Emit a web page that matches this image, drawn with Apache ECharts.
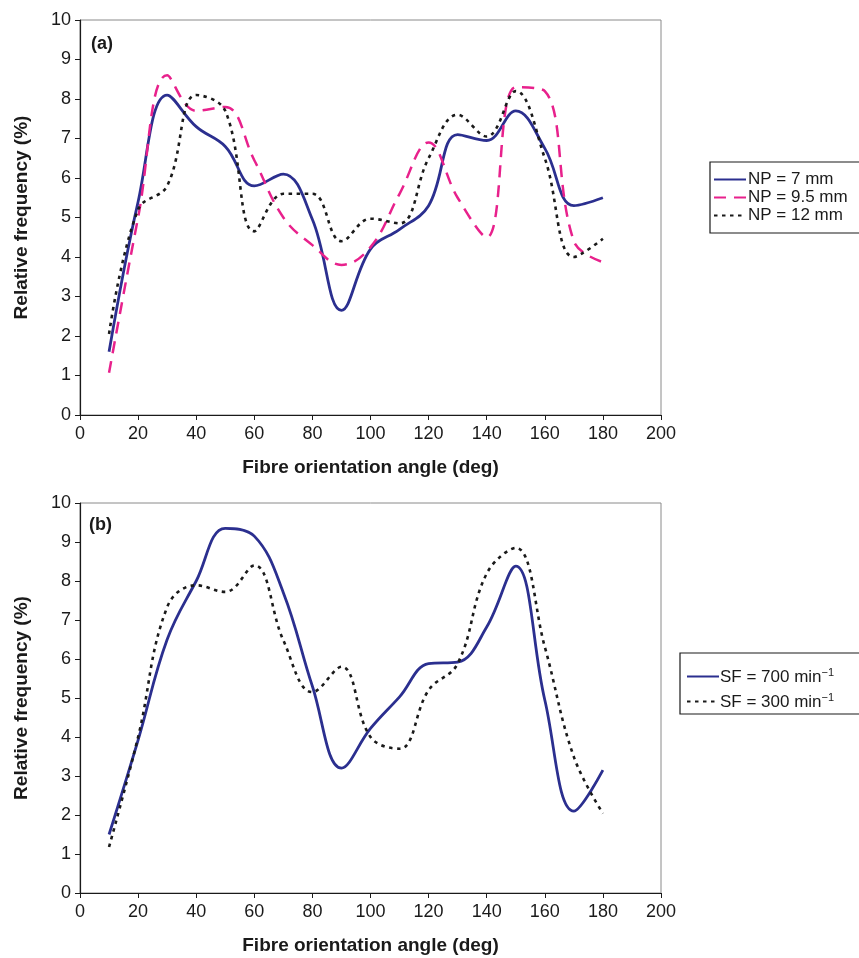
<!DOCTYPE html>
<html><head><meta charset="utf-8">
<script src="https://cdn.jsdelivr.net/npm/echarts@6/dist/echarts.min.js"></script>
<style>html,body{margin:0;padding:0;background:#fff}#c{width:859px;height:958px}</style>
</head><body><div id="c"></div>
<script>
// ---- data ----
const angles = [10,20,30,40,50,60,70,80,90,100,110,120,130,140,150,160,170,180];
const np7   = [1.6, 5.4, 8.1, 7.3, 6.8, 5.8, 6.1, 4.95, 2.65, 4.2, 4.7, 5.3, 7.1, 6.95, 7.7, 6.75, 5.3, 5.5];
const np95  = [1.07, 5.0, 8.6, 7.7, 7.8, 6.45, 5.0, 4.3, 3.8, 4.25, 5.6, 6.9, 5.5, 4.5, 8.3, 8.2, 4.4, 3.87];
const np12  = [2.05, 5.2, 5.8, 8.1, 7.7, 4.65, 5.6, 5.6, 4.4, 4.97, 4.85, 6.5, 7.6, 7.05, 8.2, 6.5, 4.0, 4.46];
const sf700 = [1.5, 3.92, 6.5, 8.0, 9.35, 9.15, 7.7, 5.3, 3.2, 4.22, 5.03, 5.88, 5.92, 6.82, 8.38, 4.95, 2.1, 3.15];
const sf300 = [1.18, 4.0, 7.33, 7.89, 7.72, 8.4, 6.48, 5.15, 5.8, 4.0, 3.7, 5.2, 5.88, 8.19, 8.85, 6.31, 3.49, 2.04];
const namesA = ['NP = 7 mm', 'NP = 9.5 mm', 'NP = 12 mm'];
const namesB = ['SF = 700', 'SF = 300'];
const panelLabels = ['(a)', '(b)'];
const xName = 'Fibre orientation angle (deg)';
const yName = 'Relative frequency (%)';

// ---- styles ----
const FONT = 'Arial, "Liberation Sans", Helvetica, sans-serif';
const INK = '#1a1a1a';
const BLUE = '#2b2f8f';
const PINK = '#e8218c';
const pairs = v => angles.map((a, i) => [a, v[i]]);

function xAxis(gi) {
  return {
    type: 'value', gridIndex: gi, min: 0, max: 200, interval: 20,
    name: xName, nameLocation: 'middle', nameGap: 43,
    nameTextStyle: {fontFamily: FONT, fontSize: 19, fontWeight: 'bold', color: INK},
    axisLine: {lineStyle: {color: INK, width: 1.2}},
    axisTick: {length: 5, lineStyle: {color: INK}},
    axisLabel: {fontFamily: FONT, fontSize: 18, color: INK, margin: 10},
    splitLine: {show: false}
  };
}
function yAxis(gi) {
  return {
    type: 'value', gridIndex: gi, min: 0, max: 10, interval: 1,
    name: yName, nameLocation: 'middle', nameGap: 49,
    nameTextStyle: {fontFamily: FONT, fontSize: 19, fontWeight: 'bold', color: INK},
    axisLine: {show: true, lineStyle: {color: INK, width: 1.2}},
    axisTick: {show: true, length: 5, lineStyle: {color: INK}},
    axisLabel: {fontFamily: FONT, fontSize: 18, color: INK, margin: 9},
    splitLine: {show: false}
  };
}
function line(name, vals, gi, color, type, width) {
  return {
    type: 'line', name: name, xAxisIndex: gi, yAxisIndex: gi,
    data: pairs(vals), smooth: 0.4, symbol: 'none',
    lineStyle: {color: color, type: type, width: width},
    itemStyle: {color: color}, z: 3
  };
}
const hiddenSymbol = {color: 'transparent', borderColor: 'transparent', borderWidth: 0, opacity: 0};

const chart = echarts.init(document.getElementById('c'), null, {renderer: 'canvas'});
chart.setOption({
  animation: false,
  backgroundColor: '#fff',
  title: [
    {text: panelLabels[0], left: 91, top: 35, padding: 0, textStyle: {fontFamily: FONT, fontSize: 18, fontWeight: 'bold', color: INK}},
    {text: panelLabels[1], left: 89, top: 516, padding: 0, textStyle: {fontFamily: FONT, fontSize: 18, fontWeight: 'bold', color: INK}}
  ],
  grid: [
    {left: 80, top: 20, width: 581, height: 395, show: true, borderColor: '#8a8a8a', borderWidth: 1, backgroundColor: 'transparent'},
    {left: 80, top: 503, width: 581, height: 390, show: true, borderColor: '#8a8a8a', borderWidth: 1, backgroundColor: 'transparent'}
  ],
  xAxis: [xAxis(0), xAxis(1)],
  yAxis: [yAxis(0), yAxis(1)],
  legend: [
    {
      data: namesA, orient: 'vertical', left: 710, top: 162,
      padding: [9, 60, 9, 3], itemGap: 1, itemWidth: 32, itemHeight: 14,
      borderColor: INK, borderWidth: 1.2, borderRadius: 0,
      itemStyle: hiddenSymbol,
      textStyle: {fontFamily: FONT, fontSize: 17, color: INK, padding: [0, 0, 0, -3]}
    },
    {
      data: namesB, orient: 'vertical', left: 680, top: 653,
      padding: [14, 60, 3, 6], itemGap: 6, itemWidth: 32, itemHeight: 14,
      borderColor: INK, borderWidth: 1.2, borderRadius: 0,
      itemStyle: hiddenSymbol,
      formatter: n => '{t|' + n + ' min}{s|\u22121}',
      textStyle: {
        fontFamily: FONT, fontSize: 17, color: INK, padding: [0, 0, 0, -4],
        rich: {
          t: {fontFamily: FONT, fontSize: 17, color: INK, verticalAlign: 'bottom'},
          s: {fontFamily: FONT, fontSize: 11, color: INK, verticalAlign: 'bottom', padding: [0, 0, 8, 0]}
        }
      }
    }
  ],
  series: [
    line(namesA[0], np7, 0, BLUE, 'solid', 2.8),
    line(namesA[1], np95, 0, PINK, [12, 8], 2.5),
    line(namesA[2], np12, 0, INK, [3.5, 4.5], 2.6),
    line(namesB[0], sf700, 1, BLUE, 'solid', 2.8),
    line(namesB[1], sf300, 1, INK, [3.5, 4.5], 2.6)
  ]
});
</script></body></html>
